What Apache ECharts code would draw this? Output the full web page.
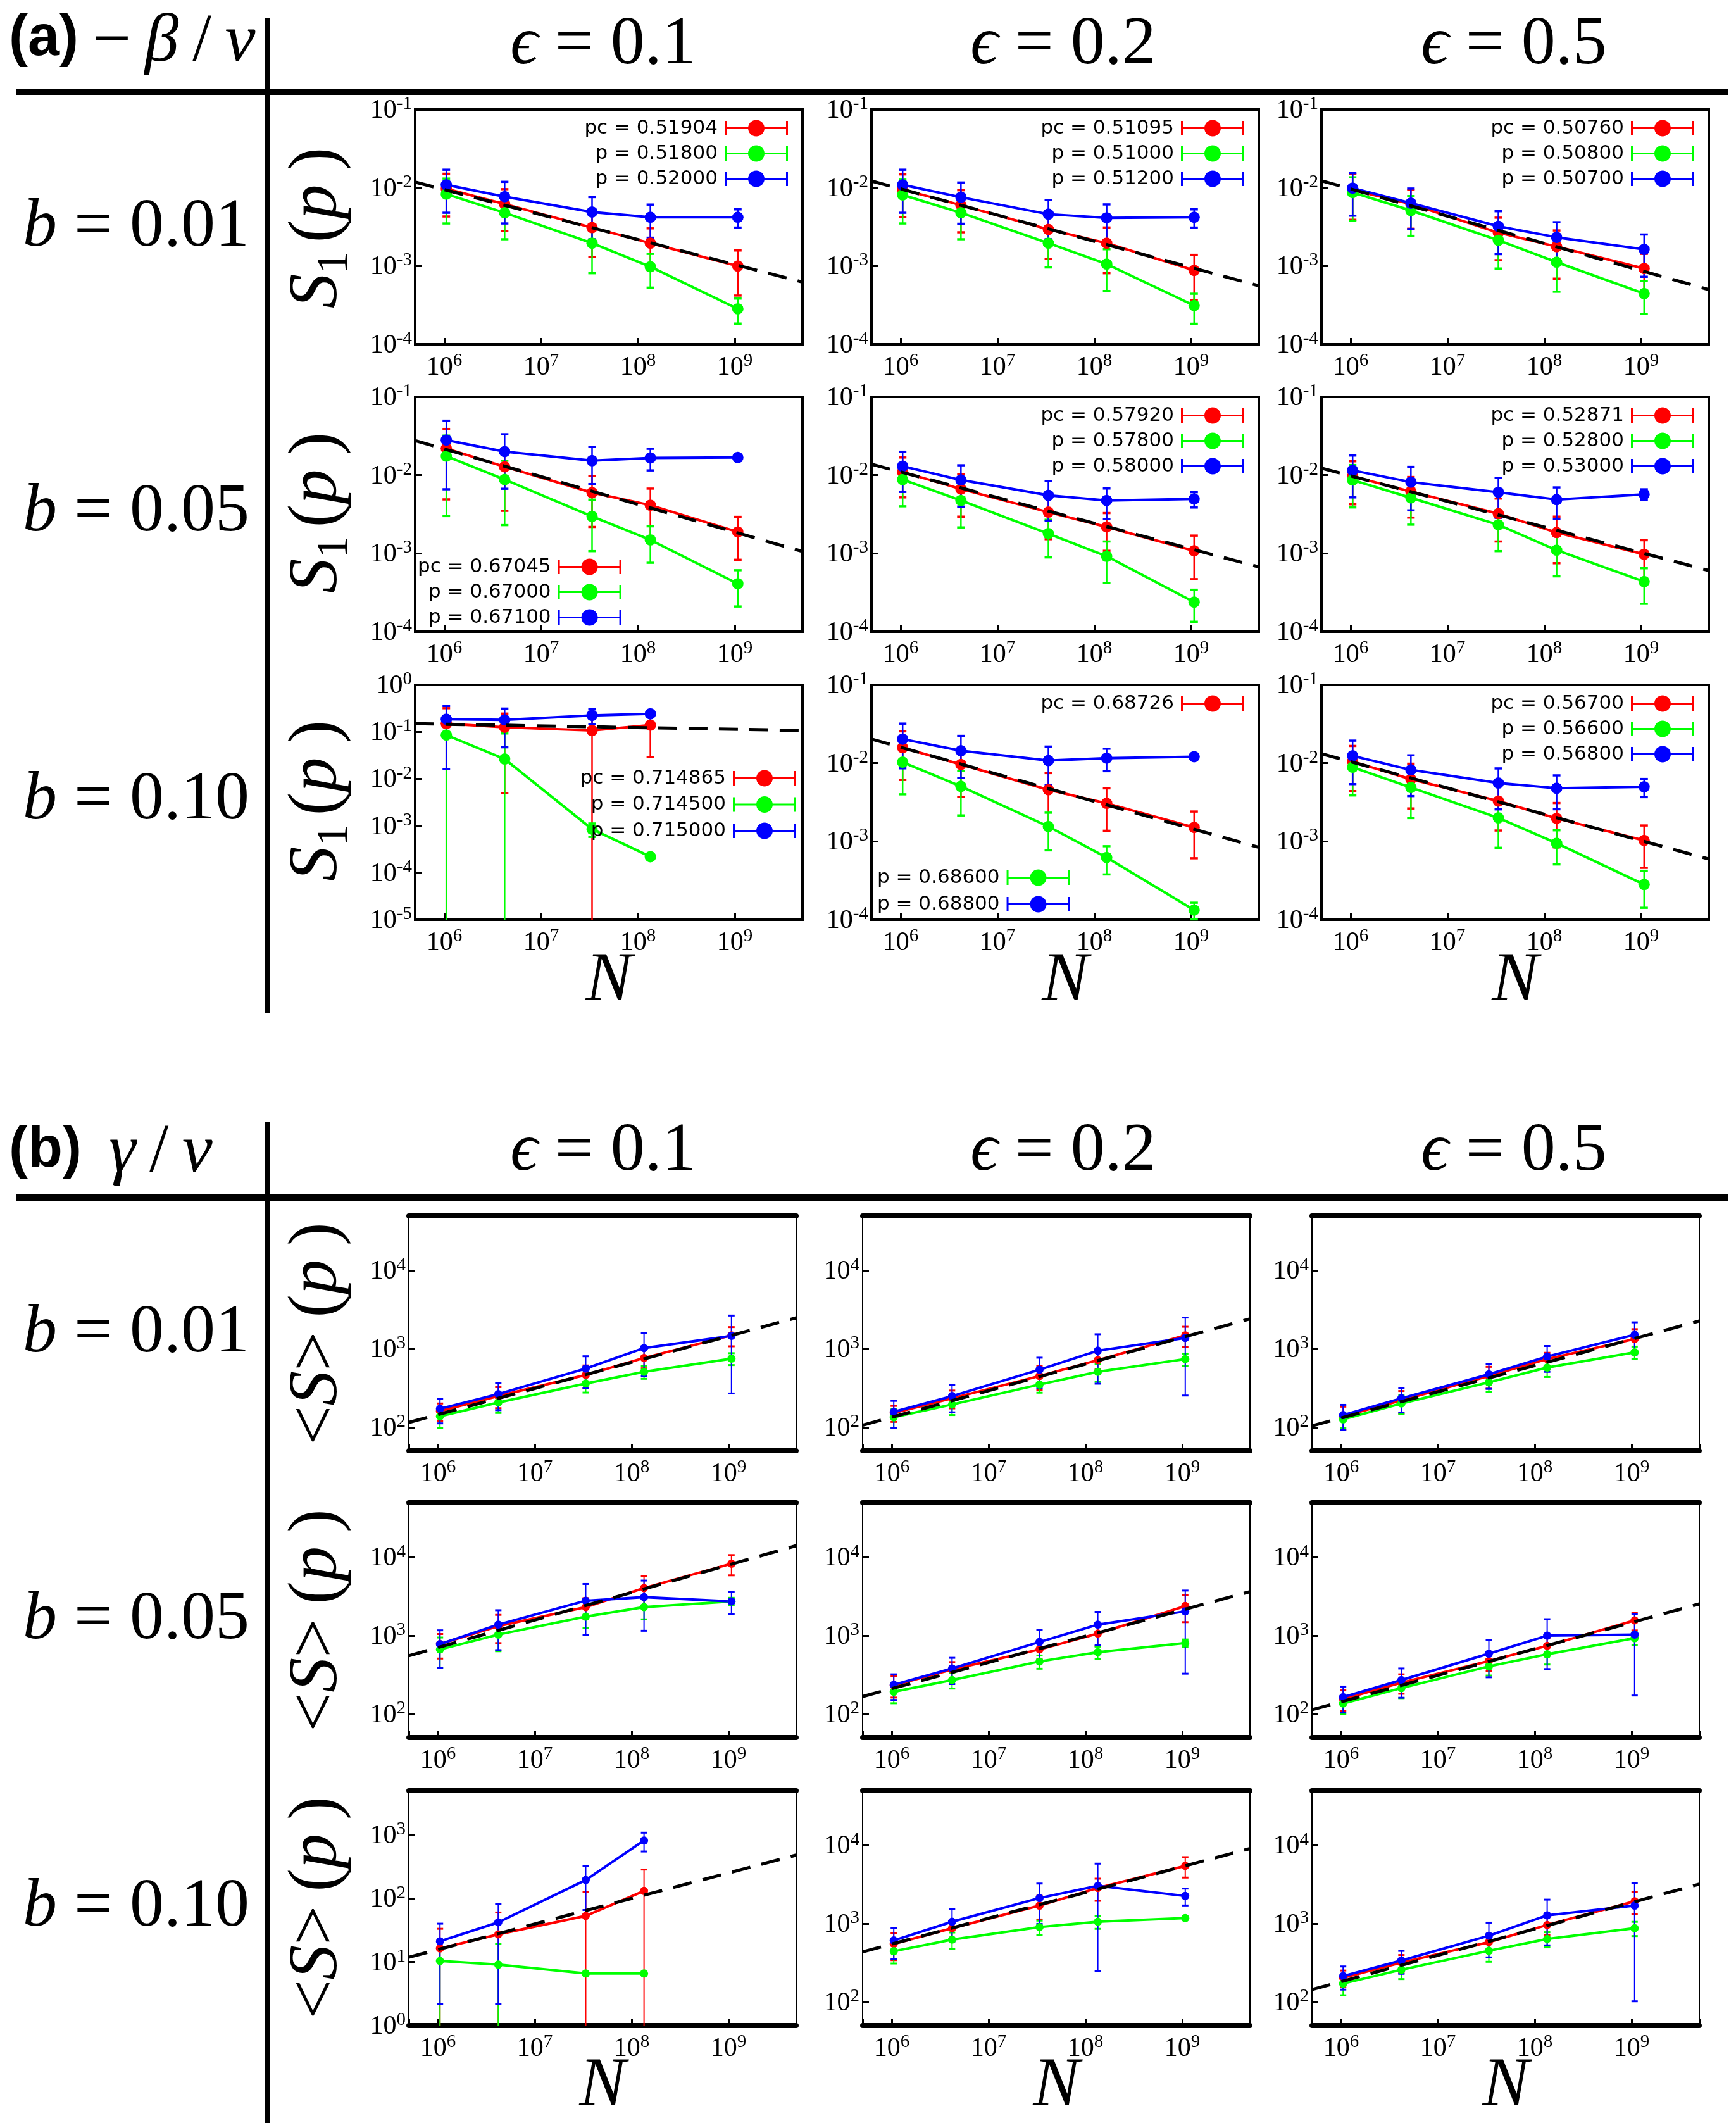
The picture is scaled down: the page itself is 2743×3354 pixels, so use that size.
<!DOCTYPE html>
<html><head><meta charset="utf-8">
<script src="https://cdn.jsdelivr.net/npm/echarts@6/dist/echarts.min.js"></script>
<style>html,body{margin:0;padding:0;background:#fff}#c{width:2743px;height:3354px}</style>
</head><body><div id="c"></div>
<script>
// ---------------- DATA ----------------
const N = [1048576, 4194304, 33554432, 134217728, 1073741824];
const FIT_X = [5e5, 5e9];
const X_RANGE = [5e5, 5e9];
const Y_RANGE_S1 = [1e-4, 1e-1];
const Y_RANGE_S1_B010_E01 = [1e-5, 1];
const Y_RANGE_S = [50, 5e4];
const Y_RANGE_S_B010_E01 = [1, 5000];

const EPS_LABELS = ['0.1', '0.2', '0.5'];
const B_LABELS = ['0.01', '0.05', '0.10'];

// legend labels (b row, eps column)
const lab11 = ['pc = 0.51904', 'p = 0.51800', 'p = 0.52000'];
const lab12 = ['pc = 0.51095', 'p = 0.51000', 'p = 0.51200'];
const lab13 = ['pc = 0.50760', 'p = 0.50800', 'p = 0.50700'];
const lab21 = ['pc = 0.67045', 'p = 0.67000', 'p = 0.67100'];
const lab22 = ['pc = 0.57920', 'p = 0.57800', 'p = 0.58000'];
const lab23 = ['pc = 0.52871', 'p = 0.52800', 'p = 0.53000'];
const lab31 = ['pc = 0.714865', 'p = 0.714500', 'p = 0.715000'];
const lab32 = ['pc = 0.68726', 'p = 0.68600', 'p = 0.68800'];
const lab33 = ['pc = 0.56700', 'p = 0.56600', 'p = 0.56800'];

// ---- panel (a): S1(p) ----
const a11_pc = [9.7e-3, 6.2e-3, 3.1e-3, 1.96e-3, 1.0e-3];
const a11_pcErr = [5.4e-3, 3.4e-3, 1.8e-3, 1.07e-3, 5.8e-4];
const a11_lo = [8.3e-3, 4.8e-3, 1.96e-3, 9.8e-4, 2.84e-4];
const a11_loErr = [4.8e-3, 2.6e-3, 1.15e-3, 4.5e-4, 1.0e-4];
const a11_hi = [1.09e-2, 7.7e-3, 4.9e-3, 4.2e-3, 4.2e-3];
const a11_hiErr = [6.1e-3, 4.2e-3, 2.7e-3, 1.9e-3, 1.1e-3];
const a11_fit = [1.18e-2, 6.25e-4];

const a12_pc = [9.5e-3, 6.0e-3, 2.94e-3, 1.96e-3, 8.8e-4];
const a12_pcErr = [5.3e-3, 3.3e-3, 1.7e-3, 1.15e-3, 5.1e-4];
const a12_lo = [8.1e-3, 4.8e-3, 1.96e-3, 1.06e-3, 3.13e-4];
const a12_loErr = [4.6e-3, 2.6e-3, 1.0e-3, 5.8e-4, 1.3e-4];
const a12_hi = [1.09e-2, 7.57e-3, 4.6e-3, 4.13e-3, 4.2e-3];
const a12_hiErr = [6.1e-3, 4.1e-3, 2.4e-3, 2.0e-3, 1.1e-3];
const a12_fit = [1.22e-2, 5.6e-4];

const a13_pc = [9.4e-3, 6.2e-3, 2.67e-3, 1.77e-3, 9.3e-4];
const a13_pcErr = [5.5e-3, 3.2e-3, 1.48e-3, 1.08e-3, 5.0e-4];
const a13_lo = [8.7e-3, 5.13e-3, 2.13e-3, 1.12e-3, 4.45e-4];
const a13_loErr = [4.9e-3, 2.7e-3, 1.2e-3, 6.5e-4, 2.0e-4];
const a13_hi = [9.9e-3, 6.37e-3, 3.22e-3, 2.33e-3, 1.63e-3];
const a13_hiErr = [5.5e-3, 3.4e-3, 1.8e-3, 1.3e-3, 9.0e-4];
const a13_fit = [1.23e-2, 5.0e-4];

const a21_pc = [2.19e-2, 1.28e-2, 5.98e-3, 4.13e-3, 1.88e-3];
const a21_pcErr = [1.7e-2, 9.3e-3, 3.8e-3, 2.6e-3, 1.05e-3];
const a21_lo = [1.75e-2, 8.8e-3, 2.97e-3, 1.49e-3, 4.1e-4];
const a21_loErr = [1.45e-2, 6.5e-3, 1.9e-3, 7.3e-4, 2.0e-4];
const a21_hi = [2.81e-2, 2.0e-2, 1.53e-2, 1.66e-2, 1.68e-2];
const a21_hiErr = [2.15e-2, 1.33e-2, 7.6e-3, 5.1e-3, 1.2e-3];
const a21_fit = [2.76e-2, 1.06e-3];

const a22_pc = [1.1e-2, 6.65e-3, 3.37e-3, 2.18e-3, 1.08e-3];
const a22_pcErr = [5.8e-3, 3.7e-3, 1.85e-3, 1.1e-3, 6.1e-4];
const a22_lo = [8.8e-3, 4.75e-3, 1.79e-3, 9.2e-4, 2.39e-4];
const a22_loErr = [4.8e-3, 2.6e-3, 9.0e-4, 5.0e-4, 1.05e-4];
const a22_hi = [1.3e-2, 8.67e-3, 5.52e-3, 4.75e-3, 4.96e-3];
const a22_hiErr = [6.9e-3, 4.7e-3, 2.9e-3, 2.0e-3, 1.1e-3];
const a22_fit = [1.38e-2, 6.73e-4];

const a23_pc = [9.64e-3, 6.17e-3, 3.22e-3, 1.85e-3, 9.75e-4];
const a23_pcErr = [5.4e-3, 3.3e-3, 1.8e-3, 1.1e-3, 5.0e-4];
const a23_lo = [8.67e-3, 5.13e-3, 2.32e-3, 1.1e-3, 4.37e-4];
const a23_loErr = [4.8e-3, 2.8e-3, 1.25e-3, 5.9e-4, 2.1e-4];
const a23_hi = [1.15e-2, 8.15e-3, 6.05e-3, 4.87e-3, 5.69e-3];
const a23_hiErr = [6.3e-3, 4.6e-3, 3.2e-3, 2.1e-3, 9.0e-4];
const a23_fit = [1.23e-2, 6.05e-4];

const a31_pc = [0.149, 0.125, 0.107, 0.139, null];
const a31_pcErr = [0.17, 0.12, 0.12, 0.11, null];
const a31_lo = [0.0855, 0.0264, 8.5e-4, 2.2e-4, null];
const a31_loErr = [0.1, 0.066, 2.7e-4, 1e-5, null];
const a31_hi = [0.186, 0.18, 0.224, 0.242, null];
const a31_hiErr = [0.17, 0.133, 0.077, 0, null];
const a31_fit = [0.149, 0.107];

const a32_pc = [1.58e-2, 9.62e-3, 4.57e-3, 3.07e-3, 1.51e-3];
const a32_pcErr = [9.7e-3, 5.9e-3, 2.9e-3, 1.7e-3, 9.0e-4];
const a32_lo = [1.03e-2, 5.05e-3, 1.55e-3, 6.24e-4, 1.33e-4];
const a32_loErr = [6.3e-3, 2.9e-3, 7.8e-4, 2.45e-4, 3.2e-5];
const a32_hi = [2.03e-2, 1.44e-2, 1.08e-2, 1.16e-2, 1.21e-2];
const a32_hiErr = [1.17e-2, 7.9e-3, 5.5e-3, 3.7e-3, 5e-4];
const a32_fit = [2.03e-2, 8.4e-4];

const a33_pc = [1.05e-2, 6.24e-3, 3.28e-3, 1.97e-3, 1.03e-3];
const a33_pcErr = [6.1e-3, 3.6e-3, 1.9e-3, 1.13e-3, 5.7e-4];
const a33_lo = [8.87e-3, 4.89e-3, 2.0e-3, 9.49e-4, 2.82e-4];
const a33_loErr = [5.0e-3, 2.9e-3, 1.17e-3, 4.4e-4, 1.4e-4];
const a33_hi = [1.24e-2, 8.2e-3, 5.57e-3, 4.78e-3, 4.98e-3];
const a33_hiErr = [7.0e-3, 4.4e-3, 3.0e-3, 2.2e-3, 1.3e-3];
const a33_fit = [1.32e-2, 5.96e-4];

// ---- panel (b): <S>(p) ----
const b11_pc = [161, 250, 465, 766, 1490];
const b11_pcErr = [40, 75, 150, 200, 410];
const b11_lo = [138, 207, 362, 510, 752];
const b11_loErr = [40, 55, 85, 95, 130];
const b11_hi = [172, 265, 561, 1026, 1470];
const b11_hiErr = [60, 100, 245, 580, 1200];
const b11_fit = [115, 2495];

const b12_pc = [152, 234, 451, 719, 1490];
const b12_pcErr = [35, 60, 150, 170, 430];
const b12_lo = [134, 195, 351, 510, 742];
const b12_loErr = [36, 52, 75, 130, 130];
const b12_hi = [157, 250, 543, 950, 1384];
const b12_hiErr = [60, 95, 230, 590, 1130];
const b12_fit = [106, 2420];

const b13_pc = [138, 220, 451, 742, 1340];
const b13_pcErr = [45, 70, 140, 150, 450];
const b13_lo = [126, 201, 374, 578, 906];
const b13_loErr = [28, 55, 90, 140, 165];
const b13_hi = [143, 234, 474, 800, 1517];
const b13_hiErr = [50, 80, 165, 290, 670];
const b13_fit = [104, 2275];

const b21_pc = [780, 1324, 2316, 4055, 8300];
const b21_pcErr = [270, 520, 700, 1700, 2400];
const b21_lo = [667, 1032, 1750, 2316, 2744];
const b21_loErr = [280, 400, 500, 700, 300];
const b21_hi = [780, 1384, 2793, 3105, 2744];
const b21_hiErr = [390, 730, 1780, 1950, 850];
const b21_fit = [553, 14090];

const b22_pc = [232, 370, 667, 1064, 2388];
const b22_pcErr = [70, 90, 170, 330, 900];
const b22_lo = [192, 271, 468, 615, 804];
const b22_loErr = [55, 60, 90, 110, 90];
const b22_hi = [236, 381, 830, 1384, 2047];
const b22_hiErr = [85, 140, 360, 630, 1720];
const b22_fit = [167, 3648];

const b23_pc = [155, 251, 474, 742, 1567];
const b23_pcErr = [45, 70, 120, 180, 400];
const b23_lo = [136, 214, 405, 578, 929];
const b23_loErr = [37, 55, 95, 150, 175];
const b23_hi = [164, 271, 589, 1000, 1032];
const b23_hiErr = [60, 110, 295, 625, 860];
const b23_fit = [113, 2541];

const b31_pc = [16.4, 27.3, 53.3, 132, null];
const b31_pcErr = [17, 33, 74, 154, null];
const b31_lo = [10.4, 9.1, 6.6, 6.6, null];
const b31_loErr = [12, 10.1, 0.3, 0.3, null];
const b31_hi = [21.2, 42.2, 196, 821, null];
const b31_hiErr = [19, 40, 130, 270, null];
const b31_fit = [11.9, 484];

const b32_pc = [552, 875, 1702, 2858, 5483];
const b32_pcErr = [210, 250, 570, 900, 1600];
const b32_lo = [445, 626, 904, 1059, 1178];
const b32_loErr = [135, 146, 190, 200, 50];
const b32_hi = [611, 1059, 2124, 3046, 2258];
const b32_hiErr = [260, 470, 1130, 2800, 550];
const b32_fit = [437, 9100];

const b33_pc = [204, 318, 581, 963, 1932];
const b33_pcErr = [48, 80, 140, 250, 620];
const b33_lo = [172, 258, 451, 638, 875];
const b33_loErr = [50, 62, 125, 140, 180];
const b33_hi = [214, 339, 701, 1279, 1702];
const b33_hiErr = [70, 110, 330, 750, 1600];
const b33_fit = [144, 3199];

// ---------------- LAYOUT / STYLE ----------------
const W = 2743;
const SERIF = "'Liberation Serif','DejaVu Serif',serif";
const SANS = "'DejaVu Sans','Liberation Sans',sans-serif";
const COLORS = ['#ff0000', '#00ff00', '#0000ff'];
const COL_LEFT_A = [656, 1377, 2088];
const COL_LEFT_B = [646, 1363, 2073];
const ROW_TOP_A = [173, 627, 1082];
const ROW_TOP_B = [1921, 2374, 2829];
const BOX_W = 612, BOX_H = 371;
const ICON = 'path://M0,12L100,12L100,15L0,15Z M0,2L3,2L3,25L0,25Z M97,2L100,2L100,25L97,25Z ' +
  'M37,13.5C37,6.32 42.82,0.5 50,0.5C57.18,0.5 63,6.32 63,13.5C63,20.68 57.18,26.5 50,26.5C42.82,26.5 37,20.68 37,13.5Z';

function P(panel, row, col, pc, pcErr, lo, loErr, hi, hiErr, fit, labels, yr) {
  return {panel, row, col, sets: [[pc, pcErr], [lo, loErr], [hi, hiErr]], fit, labels, yr};
}
const PLOTS = [
  P('a',0,0,a11_pc,a11_pcErr,a11_lo,a11_loErr,a11_hi,a11_hiErr,a11_fit,lab11,Y_RANGE_S1),
  P('a',0,1,a12_pc,a12_pcErr,a12_lo,a12_loErr,a12_hi,a12_hiErr,a12_fit,lab12,Y_RANGE_S1),
  P('a',0,2,a13_pc,a13_pcErr,a13_lo,a13_loErr,a13_hi,a13_hiErr,a13_fit,lab13,Y_RANGE_S1),
  P('a',1,0,a21_pc,a21_pcErr,a21_lo,a21_loErr,a21_hi,a21_hiErr,a21_fit,lab21,Y_RANGE_S1),
  P('a',1,1,a22_pc,a22_pcErr,a22_lo,a22_loErr,a22_hi,a22_hiErr,a22_fit,lab22,Y_RANGE_S1),
  P('a',1,2,a23_pc,a23_pcErr,a23_lo,a23_loErr,a23_hi,a23_hiErr,a23_fit,lab23,Y_RANGE_S1),
  P('a',2,0,a31_pc,a31_pcErr,a31_lo,a31_loErr,a31_hi,a31_hiErr,a31_fit,lab31,Y_RANGE_S1_B010_E01),
  P('a',2,1,a32_pc,a32_pcErr,a32_lo,a32_loErr,a32_hi,a32_hiErr,a32_fit,lab32,Y_RANGE_S1),
  P('a',2,2,a33_pc,a33_pcErr,a33_lo,a33_loErr,a33_hi,a33_hiErr,a33_fit,lab33,Y_RANGE_S1),
  P('b',0,0,b11_pc,b11_pcErr,b11_lo,b11_loErr,b11_hi,b11_hiErr,b11_fit,lab11,Y_RANGE_S),
  P('b',0,1,b12_pc,b12_pcErr,b12_lo,b12_loErr,b12_hi,b12_hiErr,b12_fit,lab12,Y_RANGE_S),
  P('b',0,2,b13_pc,b13_pcErr,b13_lo,b13_loErr,b13_hi,b13_hiErr,b13_fit,lab13,Y_RANGE_S),
  P('b',1,0,b21_pc,b21_pcErr,b21_lo,b21_loErr,b21_hi,b21_hiErr,b21_fit,lab21,Y_RANGE_S),
  P('b',1,1,b22_pc,b22_pcErr,b22_lo,b22_loErr,b22_hi,b22_hiErr,b22_fit,lab22,Y_RANGE_S),
  P('b',1,2,b23_pc,b23_pcErr,b23_lo,b23_loErr,b23_hi,b23_hiErr,b23_fit,lab23,Y_RANGE_S),
  P('b',2,0,b31_pc,b31_pcErr,b31_lo,b31_loErr,b31_hi,b31_hiErr,b31_fit,lab31,Y_RANGE_S_B010_E01),
  P('b',2,1,b32_pc,b32_pcErr,b32_lo,b32_loErr,b32_hi,b32_hiErr,b32_fit,lab32,Y_RANGE_S),
  P('b',2,2,b33_pc,b33_pcErr,b33_lo,b33_loErr,b33_hi,b33_hiErr,b33_fit,lab33,Y_RANGE_S)
];

function box(p) {
  const isA = p.panel === 'a';
  return {left: (isA ? COL_LEFT_A : COL_LEFT_B)[p.col], top: (isA ? ROW_TOP_A : ROW_TOP_B)[p.row]};
}

const TICK_RICH = {
  b: {fontSize: 42, fontFamily: SERIF, color: '#000', lineHeight: 46, verticalAlign: 'bottom'},
  s: {fontSize: 29, fontFamily: SERIF, color: '#000', lineHeight: 29, verticalAlign: 'top'}
};
function powLabel(v) {
  const e = Math.log10(v), r = Math.round(e);
  if (Math.abs(e - r) > 1e-6) return '';
  return '{b|10}{s|' + r + '}';
}

function errRender(yr, color, isA) {
  const lw = isA ? 2.5 : 2, cw = isA ? 6 : 5, cl = isA ? 3.5 : 3;
  return function (params, api) {
    const x = api.value(0), v = api.value(1), e = api.value(2);
    const hi = v + e, lo = v - e;
    const hiC = Math.min(hi, yr[1]);
    const loC = lo > yr[0] ? lo : yr[0];
    const pH = api.coord([x, hiC]), pL = api.coord([x, loC]);
    const ch = [{type: 'line', shape: {x1: pH[0], y1: pH[1], x2: pL[0], y2: pL[1]}, style: {stroke: color, lineWidth: lw}}];
    if (hi < yr[1]) ch.push({type: 'line', shape: {x1: pH[0] - cw, y1: pH[1], x2: pH[0] + cw, y2: pH[1]}, style: {stroke: color, lineWidth: cl}});
    if (lo > yr[0]) ch.push({type: 'line', shape: {x1: pL[0] - cw, y1: pL[1], x2: pL[0] + cw, y2: pL[1]}, style: {stroke: color, lineWidth: cl}});
    return {type: 'group', children: ch};
  };
}

const grids = [], xAxes = [], yAxes = [], series = [], legends = [];
const topAxes = [];
PLOTS.forEach((p, gi) => {
  const isA = p.panel === 'a';
  const b = box(p);
  grids.push({left: b.left, top: b.top, width: BOX_W, height: BOX_H, show: true,
    borderColor: '#000', borderWidth: isA ? 4 : 2, backgroundColor: 'rgba(0,0,0,0)',
    containLabel: false, outerBoundsMode: 'none'});
  xAxes.push({type: 'log', logBase: 10, gridIndex: gi, min: X_RANGE[0], max: X_RANGE[1], position: 'bottom',
    axisLine: {show: !isA, lineStyle: {color: '#000', width: 8}},
    axisTick: {show: true, inside: true, length: 10, lineStyle: {color: '#000', width: 3}},
    minorTick: {show: false}, splitLine: {show: false}, minorSplitLine: {show: false},
    axisLabel: {show: true, formatter: powLabel, margin: 12, rich: TICK_RICH, color: '#000', fontFamily: SERIF,
      showMinLabel: true, showMaxLabel: true, hideOverlap: false}});
  yAxes.push({type: 'log', logBase: 10, gridIndex: gi, min: p.yr[0], max: p.yr[1], position: 'left',
    axisLine: {show: false},
    axisTick: {show: true, inside: true, length: 10, lineStyle: {color: '#000', width: 3}},
    minorTick: {show: false}, splitLine: {show: false}, minorSplitLine: {show: false},
    axisLabel: {show: true, formatter: powLabel, margin: 5, rich: TICK_RICH, color: '#000', fontFamily: SERIF,
      showMinLabel: true, showMaxLabel: true, hideOverlap: false}});
  if (!isA) {
    topAxes.push({type: 'log', logBase: 10, gridIndex: gi, min: X_RANGE[0], max: X_RANGE[1], position: 'top',
      axisLine: {show: true, lineStyle: {color: '#000', width: 8}},
      axisTick: {show: false}, axisLabel: {show: false}, splitLine: {show: false}});
  }
  p.sets.forEach(([vals, errs], k) => {
    const color = COLORS[k];
    const idx = N.map((_, i) => i).filter(i => vals[i] != null);
    series.push({type: 'custom', name: p.labels[k] + ' error', xAxisIndex: gi, yAxisIndex: gi,
      data: idx.map(i => [N[i], vals[i], errs[i]]), encode: {x: 0, y: 1},
      renderItem: errRender(p.yr, color, isA), silent: true, animation: false, z: 2});
    series.push({type: 'line', name: p.labels[k], xAxisIndex: gi, yAxisIndex: gi,
      data: idx.map(i => [N[i], vals[i]]), symbol: 'circle', symbolSize: isA ? 18 : 13, showSymbol: true,
      lineStyle: {color: color, width: 4}, itemStyle: {color: color, borderWidth: 0},
      silent: true, animation: false, z: 2});
  });
  series.push({type: 'line', name: 'fit', xAxisIndex: gi, yAxisIndex: gi,
    data: [[FIT_X[0], p.fit[0]], [FIT_X[1], p.fit[1]]], symbol: 'none',
    lineStyle: {color: '#000', width: 5, type: [30, 18]}, silent: true, animation: false, z: 3});
});
topAxes.forEach(a => xAxes.push(a));

function legend(names, pos, gap) {
  return Object.assign({show: true, orient: 'vertical', align: 'right', padding: 0,
    itemGap: gap || 9, itemWidth: 100, itemHeight: 26, icon: ICON, selectedMode: false,
    itemStyle: {borderWidth: 0},
    textStyle: {color: '#000', fontFamily: SANS, fontSize: 31, lineHeight: 26, padding: [0, 6, 0, 0]},
    data: names}, pos);
}
function topRight(gi) {
  const b = box(PLOTS[gi]);
  return {right: W - (b.left + BOX_W - 23), top: b.top + 14};
}
[0, 1, 2, 4, 5, 8].forEach(gi => legends.push(legend(PLOTS[gi].labels, topRight(gi))));
legends.push(legend(PLOTS[3].labels, {left: 660, top: 880}));
legends.push(legend(PLOTS[6].labels, {right: 1485, top: 1214}, 10.5));
legends.push(legend([PLOTS[7].labels[0]], topRight(7)));
legends.push(legend([PLOTS[7].labels[1], PLOTS[7].labels[2]], {left: 1386, top: 1371}, 11));

// ---------------- TEXT / FRAMES ----------------
const MATH_RICH = {
  i: {fontFamily: SERIF, fontStyle: 'italic', fontSize: 108, color: '#000'},
  n: {fontFamily: SERIF, fontSize: 108, color: '#000'}
};
const TITLE_RICH = {
  i: {fontFamily: SERIF, fontStyle: 'italic', fontSize: 110, color: '#000', lineHeight: 126},
  n: {fontFamily: SERIF, fontSize: 110, color: '#000', lineHeight: 126},
  sub: {fontFamily: SERIF, fontSize: 70, color: '#000', lineHeight: 70, verticalAlign: 'bottom'}
};
function txt(x, y, text, rich, align, rotation, extra) {
  return Object.assign({type: 'text', x: x, y: y, rotation: rotation || 0, silent: true,
    style: {text: text, rich: rich, fill: '#000', align: align || 'center', verticalAlign: 'middle',
      textAlign: align || 'center', textVerticalAlign: 'middle'}}, extra || {});
}
function boldTxt(x, y, text) {
  return {type: 'text', x: x, y: y, silent: true,
    style: {text: text, fontFamily: "'Liberation Sans',Arial,sans-serif", fontWeight: 'bold', fontSize: 90,
      fill: '#000', align: 'left', verticalAlign: 'middle', textAlign: 'left', textVerticalAlign: 'middle'}};
}
const COL_CENTERS = [953, 1680, 2392];
const ROW_CENTERS_A = [360, 810, 1265];
const ROW_CENTERS_B = [2107, 2560, 3014];
const TSP = '\u2009';
const g = [];
// frames
g.push({type: 'rect', shape: {x: 26, y: 140, width: 2704, height: 10}, style: {fill: '#000'}, silent: true});
g.push({type: 'rect', shape: {x: 418, y: 28, width: 9, height: 1572}, style: {fill: '#000'}, silent: true});
g.push({type: 'rect', shape: {x: 26, y: 1887, width: 2704, height: 10}, style: {fill: '#000'}, silent: true});
g.push({type: 'rect', shape: {x: 418, y: 1773, width: 9, height: 1581}, style: {fill: '#000'}, silent: true});
// panel labels
g.push(boldTxt(14, 62, '(a)'));
g.push(txt(146, 68, '{n|\u2212}{n|' + TSP + '}{i|\u03B2}{n|' + TSP + '/' + TSP + '}{i|\u03BD}', MATH_RICH, 'left'));
g.push(boldTxt(14, 1818, '(b)'));
g.push(txt(172, 1822, '{i|\u03B3}{n|' + TSP + '/' + TSP + '}{i|\u03BD}', MATH_RICH, 'left'));
// column headers
[72, 1820].forEach(y => COL_CENTERS.forEach((x, c) =>
  g.push(txt(x, y, '{i|\u03F5}{n| = ' + EPS_LABELS[c] + '}', MATH_RICH, 'center'))));
// row labels
ROW_CENTERS_A.concat(ROW_CENTERS_B).forEach((y, r) =>
  g.push(txt(394, y, '{i|b}{n| = ' + B_LABELS[r % 3] + '}', MATH_RICH, 'right')));
// y titles
ROW_CENTERS_A.forEach(y => g.push(txt(502, y, '{i|S}{sub|1' + TSP + '}{n|(}{i|p}{n|' + TSP + ')}', TITLE_RICH, 'center', Math.PI / 2)));
ROW_CENTERS_B.forEach(y => g.push(txt(502, y, '{n|<}{i|S}{n|>' + TSP + '(}{i|p}{n|' + TSP + ')}', TITLE_RICH, 'center', Math.PI / 2)));
// x titles
[0, 1, 2].forEach(c => {
  g.push(txt(COL_LEFT_A[c] + BOX_W / 2, 1551, '{i|N}', TITLE_RICH, 'center'));
  g.push(txt(COL_LEFT_B[c] + BOX_W / 2, 3297, '{i|N}', TITLE_RICH, 'center'));
});

const chart = echarts.init(document.getElementById('c'), null, {renderer: 'canvas', width: 2743, height: 3354});
chart.setOption({
  animation: false,
  backgroundColor: '#fff',
  grid: grids, xAxis: xAxes, yAxis: yAxes, series: series, legend: legends,
  graphic: {elements: g}
});
</script></body></html>
